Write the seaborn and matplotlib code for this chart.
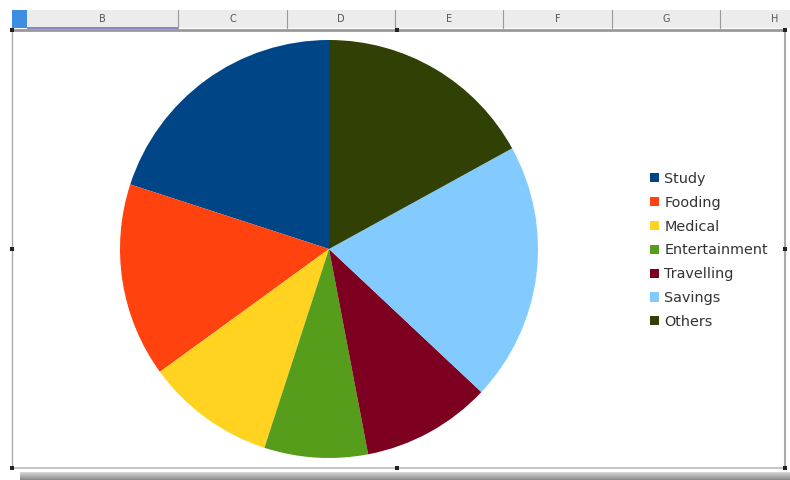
import matplotlib
matplotlib.use("Agg")
import matplotlib.pyplot as plt
import seaborn as sns
from matplotlib.patches import Rectangle
from matplotlib.lines import Line2D

sns.set_theme(style="white")
plt.rcParams['font.family'] = ['DejaVu Sans']

categories = ["Study", "Fooding", "Medical", "Entertainment", "Travelling", "Savings", "Others"]
values = [20, 15, 10, 8, 10, 20, 17]
colors = ["#004586", "#ff420e", "#ffd320", "#579d1c", "#7e0021", "#83caff", "#314004"]
col_letters = ["B", "C", "D", "E", "F", "G", "H"]

W, H = 790, 480
fig = plt.figure(figsize=(W / 100, H / 100), dpi=100)
fig.patch.set_facecolor("white")

def fx(x):
    return x / W

def fy(y):
    return 1 - y / H

# spreadsheet header strip
fig.patches.append(Rectangle((fx(12), fy(28)), fx(778), 18 / H, transform=fig.transFigure,
                             facecolor="#ececec", edgecolor="none", zorder=0))
fig.patches.append(Rectangle((fx(12), fy(28)), fx(15), 18 / H, transform=fig.transFigure,
                             facecolor="#3d8ee0", edgecolor="none", zorder=1))
fig.patches.append(Rectangle((fx(27), fy(29)), fx(151), 2 / H, transform=fig.transFigure,
                             facecolor="#8888c8", edgecolor="none", zorder=1))
bounds = [27, 178, 287, 395, 503, 612, 720, 790]
for b in bounds[1:-1]:
    fig.lines.append(Line2D([fx(b), fx(b)], [fy(10), fy(28)], transform=fig.transFigure,
                            color="#999999", lw=0.8))
for i, letter in enumerate(col_letters):
    cx = (bounds[i] + bounds[i + 1]) / 2
    if letter == "H":
        cx = 775
    fig.text(fx(cx), fy(19), letter, ha="center", va="center", fontsize=7, color="#555555")

# chart frame
fig.lines.append(Line2D([fx(12), fx(785)], [fy(30), fy(30)], transform=fig.transFigure, color="#999999", lw=2))
fig.lines.append(Line2D([fx(12), fx(785)], [fy(468), fy(468)], transform=fig.transFigure, color="#bbbbbb", lw=1.2))
fig.lines.append(Line2D([fx(12), fx(12)], [fy(30), fy(468)], transform=fig.transFigure, color="#aaaaaa", lw=1))
fig.lines.append(Line2D([fx(785), fx(785)], [fy(30), fy(468)], transform=fig.transFigure, color="#aaaaaa", lw=1.5))
# bottom shadow
for k in range(8):
    shade = 0.55 + 0.04 * k
    fig.patches.append(Rectangle((fx(20), fy(480 - k)), fx(770), 1 / H, transform=fig.transFigure,
                                 facecolor=(shade, shade, shade), edgecolor="none"))
# handles
for (hx, hy) in [(12, 30), (397, 30), (785, 30), (12, 249), (785, 249), (12, 468), (397, 468), (785, 468)]:
    fig.patches.append(Rectangle((fx(hx - 2), fy(hy + 2)), 4 / W, 4 / H, transform=fig.transFigure,
                                 facecolor="#222222", edgecolor="none", zorder=5))

# pie
ax = fig.add_axes([fx(120), fy(458), fx(418), 418 / H])
wedges, _ = ax.pie(values, colors=colors, startangle=90, counterclock=True,
                   wedgeprops=dict(linewidth=0))
ax.set_xlim(-1, 1)
ax.set_ylim(-1, 1)
ax.set_aspect("equal")
ax.axis("off")

fig.legend(wedges, categories, loc="upper left", bbox_to_anchor=(fx(650), fy(172)),
           frameon=False, fontsize=10.4, handlelength=0.6, handleheight=0.6,
           handletextpad=0.4, labelspacing=0.68, borderaxespad=0, borderpad=0,
           labelcolor="#333333")

fig.savefig("out.png", dpi=100, facecolor="white")
